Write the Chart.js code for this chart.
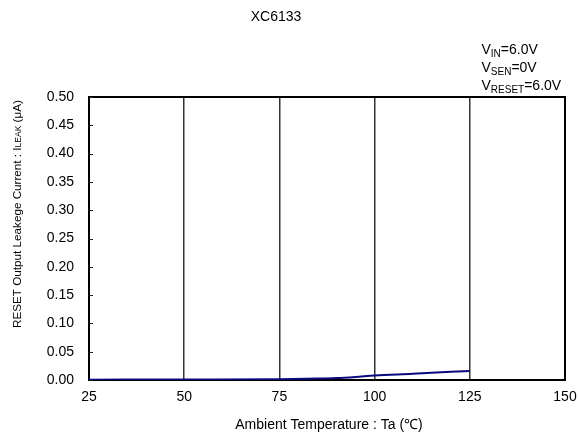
<!DOCTYPE html>
<html><head><meta charset="utf-8">
<script src="https://cdn.jsdelivr.net/npm/chart.js@4/dist/chart.umd.min.js"></script>
<style>html,body{margin:0;padding:0;background:#fff}#wrap{width:578px;height:434px}</style>
</head><body><div id="wrap"><canvas id="c" width="578" height="434"></canvas></div>
<script>
const chartTitle = 'XC6133';
const temperatures = [25, 50, 75, 85, 90, 95, 100, 110, 120, 125];
const leakCurrent = [0.0005, 0.001, 0.0015, 0.0025, 0.0035, 0.0055, 0.008, 0.011, 0.0145, 0.016];
const xTicks = [25, 50, 75, 100, 125, 150];
const yTicks = [0, 0.05, 0.10, 0.15, 0.20, 0.25, 0.30, 0.35, 0.40, 0.45, 0.50];
const xTitle = 'Ambient Temperature : Ta (\u2103)';
const yTitleParts = [['RESET Output Leakege Current : I', 'n'], ['LEAK', 's'], [' (\u03bcA)', 'n']];
const conditions = [['V', 'IN', '=6.0V'], ['V', 'SEN', '=0V'], ['V', 'RESET', '=6.0V']];

const FONT = '"Liberation Sans", Arial, sans-serif';

const decor = {
  id: 'decor',
  beforeDatasetsDraw(chart) {
    const {ctx, chartArea: a} = chart;
    ctx.save();
    ctx.strokeStyle = '#000';
    ctx.lineWidth = 2;
    ctx.strokeRect(a.left, a.top, a.right - a.left, a.bottom - a.top);
    const ys = chart.scales.y;
    ctx.lineWidth = 1;
    ctx.strokeStyle = '#222';
    ys.ticks.forEach(t => {
      const py = Math.round(ys.getPixelForValue(t.value)) + 0.5;
      ctx.beginPath(); ctx.moveTo(a.left, py); ctx.lineTo(a.left + 4, py); ctx.stroke();
    });
    ctx.restore();
  },
  afterDraw(chart) {
    const {ctx} = chart;
    ctx.save();
    ctx.fillStyle = '#000';
    ctx.font = '14px ' + FONT;
    ctx.textAlign = 'center';
    ctx.textBaseline = 'alphabetic';
    ctx.fillText(chartTitle, 276, 21);
    ctx.fillText(xTitle, 329, 429);
    ctx.save();
    ctx.translate(21, 328);
    ctx.rotate(-Math.PI / 2);
    ctx.textAlign = 'left';
    let x = 0;
    yTitleParts.forEach(([txt, kind]) => {
      ctx.font = (kind === 's' ? '8.5px ' : '11.7px ') + FONT;
      ctx.fillText(txt, x, 0);
      x += ctx.measureText(txt).width;
    });
    ctx.restore();
    ctx.textAlign = 'left';
    conditions.forEach((c, i) => {
      const base = 53.5 + i * 18.3;
      let cx = 481.5;
      ctx.font = '14px ' + FONT;
      ctx.fillText(c[0], cx, base); cx += ctx.measureText(c[0]).width;
      ctx.font = '10px ' + FONT;
      ctx.fillText(c[1], cx, base + 3); cx += ctx.measureText(c[1]).width;
      ctx.font = '14px ' + FONT;
      ctx.fillText(c[2], cx, base);
    });
    ctx.restore();
  }
};

new Chart(document.getElementById('c'), {
  type: 'line',
  data: {
    datasets: [{
      data: temperatures.map((t, i) => ({x: t, y: leakCurrent[i]})),
      borderColor: '#0a0a80',
      borderWidth: 2,
      pointRadius: 0,
      fill: false,
      cubicInterpolationMode: 'monotone'
    }]
  },
  options: {
    responsive: false,
    animation: false,
    layout: {padding: {top: 97, right: 13, left: 0, bottom: 0}},
    plugins: {legend: {display: false}, title: {display: false}, tooltip: {enabled: false}},
    scales: {
      x: {
        type: 'linear', min: 25, max: 150,
        afterBuildTicks: s => { s.ticks = xTicks.map(v => ({value: v})); },
        afterFit: s => { s.height = 54; s.paddingLeft = 0; s.paddingRight = 0; },
        ticks: {font: {family: FONT, size: 14}, color: '#000', padding: 9, maxRotation: 0,
                callback: v => String(v)},
        grid: {color: '#333', lineWidth: 1.5, drawTicks: false},
        border: {display: false}
      },
      y: {
        min: 0, max: 0.5,
        afterBuildTicks: s => { s.ticks = yTicks.map(v => ({value: v})); },
        afterFit: s => { s.width = 89; s.paddingTop = 0; s.paddingBottom = 0; },
        ticks: {font: {family: FONT, size: 14}, color: '#000', padding: 15,
                callback: v => Number(v).toFixed(2)},
        grid: {display: false, drawTicks: false},
        border: {display: false}
      }
    }
  },
  plugins: [decor]
});
</script>
</body></html>
